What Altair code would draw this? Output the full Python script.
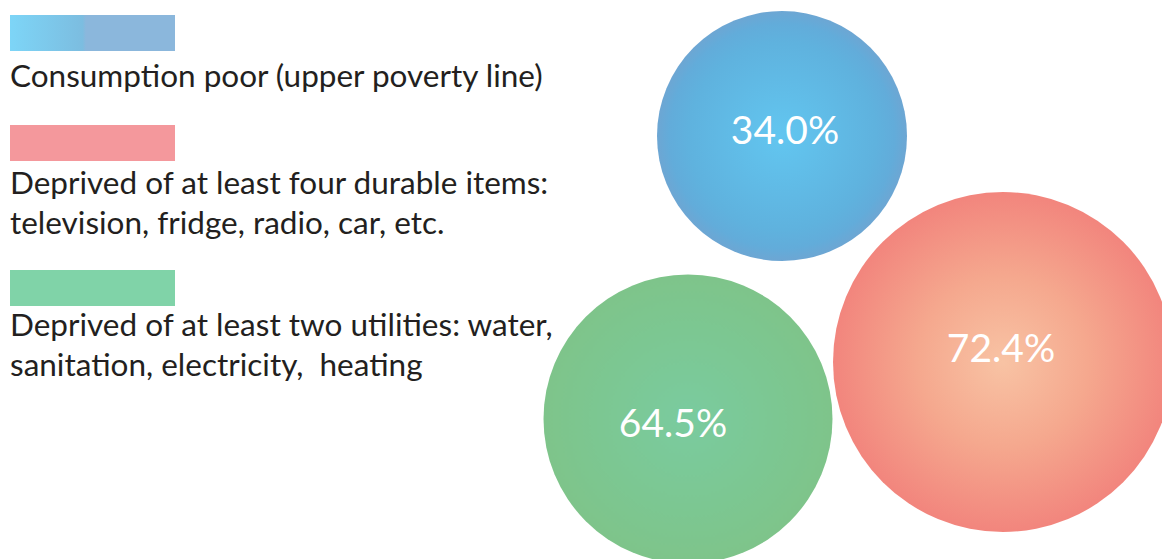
import altair as alt
import pandas as pd

# ---- data ----
categories = ["consumption", "durables", "utilities"]
values = [34.0, 72.4, 64.5]
legend_labels = [
    "Consumption poor (upper poverty line)",
    "Deprived of at least four durable items:\ntelevision, fridge, radio, car, etc.",
    "Deprived of at least two utilities: water,\nsanitation, electricity,\u00a0 heating",
]

df = pd.DataFrame({
    "category": categories,
    "value": values,
    "legend": legend_labels,
})
df["label"] = df["value"].map(lambda v: f"{v:.1f}%")

# ---- layout / styles ----
circle_layout = {
    "consumption": dict(cx=782, cy=136, d=250, tx=785, ty=144),
    "durables": dict(cx=1003, cy=362, d=340, tx=1001, ty=362),
    "utilities": dict(cx=688, cy=419, d=289, tx=673, ty=437),
}
circle_stops = {
    "consumption": [("#62C6F0", 0.0), ("#5FB2DE", 0.75), ("#62ACDA", 0.9), ("#6DA6D3", 1.0)],
    "durables": [("#F8C3A4", 0.0), ("#F5A88E", 0.5), ("#F2857D", 1.0)],
    "utilities": [("#7ACB9F", 0.0), ("#7CC792", 0.6), ("#7EC48A", 1.0)],
}
legend_layout = {
    "consumption": dict(ry=15, ty=87),
    "durables": dict(ry=125, ty=194),
    "utilities": dict(ry=270, ty=336),
}
legend_fill = {
    "consumption": alt.LinearGradient(
        gradient="linear",
        stops=[
            alt.GradientStop(color="#7DD5F7", offset=0.0),
            alt.GradientStop(color="#7CBDE0", offset=0.44),
            alt.GradientStop(color="#8BB7DC", offset=0.46),
            alt.GradientStop(color="#8BB7DC", offset=1.0),
        ],
        x1=0, x2=1, y1=0, y2=0,
    ),
    "durables": "#F4989C",
    "utilities": "#80D3A8",
}

base = alt.Chart(df)
layers = []
for cat in categories:
    L = circle_layout[cat]
    grad = alt.RadialGradient(
        gradient="radial",
        stops=[alt.GradientStop(color=c, offset=o) for c, o in circle_stops[cat]],
        x1=0.5, y1=0.5, r1=0, x2=0.5, y2=0.5, r2=0.5,
    )
    sub = base.transform_filter(alt.datum.category == cat)
    layers.append(
        sub.mark_circle(fill=grad, opacity=1, fillOpacity=1, strokeWidth=0).encode(
            x=alt.value(L["cx"]), y=alt.value(L["cy"]), size=alt.value(L["d"] ** 2)
        )
    )
    layers.append(
        sub.mark_text(font="Lato", fontSize=39, color="white", align="center",
                      baseline="alphabetic").encode(
            x=alt.value(L["tx"]), y=alt.value(L["ty"]), text="label:N"
        )
    )
    G = legend_layout[cat]
    layers.append(
        sub.mark_rect(fill=legend_fill[cat], opacity=1, strokeWidth=0).encode(
            x=alt.value(10), x2=alt.value(175), y=alt.value(G["ry"]), y2=alt.value(G["ry"] + 36)
        )
    )
    layers.append(
        sub.mark_text(font="Lato", fontSize=31.5, color="#231F20", align="left",
                      baseline="alphabetic", lineBreak="\n", lineHeight=40).encode(
            x=alt.value(10), y=alt.value(G["ty"]), text="legend:N"
        )
    )

chart = alt.layer(*layers).properties(
    width=1162, height=559, padding=0, autosize="none", background="white"
).configure_view(stroke=None)

chart.save("out.html", embed_options={"renderer": "svg", "actions": False})
